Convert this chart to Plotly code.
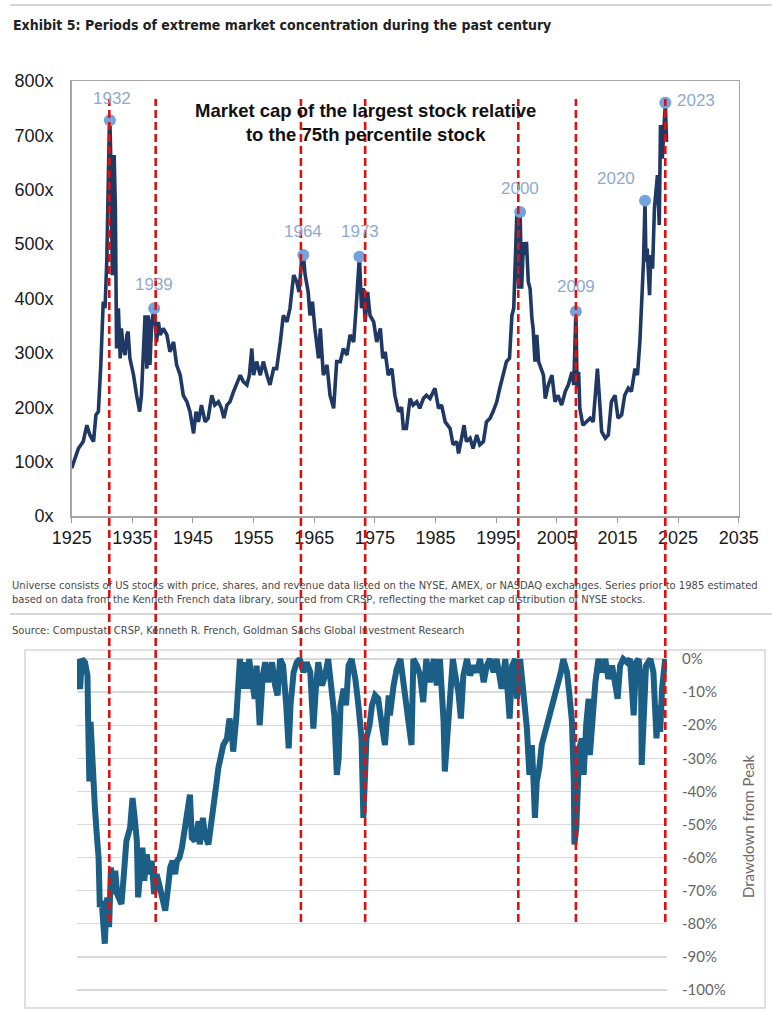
import plotly.graph_objects as go

W, H = 774, 1010

# ---------------- data ----------------
conc_years = [1925.0, 1925.5, 1926.1, 1926.9, 1927.5, 1928.0, 1928.6, 1929.0, 1929.4, 1929.8,
              1930.2, 1930.5, 1930.8, 1931.2, 1931.3, 1931.5, 1931.7, 1932.0, 1932.2, 1932.4,
              1932.7, 1933.0, 1933.2, 1933.5, 1933.8, 1934.1, 1934.3, 1934.6, 1935.2, 1935.7,
              1936.2, 1936.5, 1936.8, 1937.1, 1937.4, 1937.6, 1937.9, 1938.2, 1938.6, 1939.0,
              1939.3, 1939.6, 1940.1, 1940.7, 1941.2, 1941.8, 1942.3, 1942.9, 1943.4, 1944.0,
              1944.5, 1945.1, 1945.5, 1945.9, 1946.4, 1947.0, 1947.5, 1948.1, 1948.6, 1949.2,
              1949.7, 1950.1, 1950.6, 1951.1, 1951.7, 1952.2, 1952.8, 1953.3, 1953.9, 1954.3,
              1954.7, 1955.0, 1955.5, 1956.1, 1956.6, 1957.2, 1957.7, 1958.3, 1958.8, 1959.4,
              1959.9, 1960.5, 1961.0, 1961.6, 1962.1, 1962.5, 1962.9, 1963.2, 1963.5, 1964.0,
              1964.3, 1964.7, 1965.1, 1965.7, 1966.0, 1966.5, 1967.1, 1967.6, 1968.2, 1968.7,
              1969.3, 1969.8, 1970.4, 1970.9, 1971.5, 1971.9, 1972.3, 1972.45, 1972.8, 1973.1,
              1973.4, 1973.8, 1974.2, 1974.8, 1975.3, 1975.9, 1976.3, 1976.7, 1977.2, 1977.8,
              1978.3, 1978.9, 1979.4, 1979.7, 1980.2, 1980.8, 1981.3, 1981.9, 1982.4, 1983.0,
              1983.5, 1984.1, 1984.9, 1985.5, 1986.0, 1986.6, 1987.4, 1987.9, 1988.5, 1988.8,
              1989.3, 1989.7, 1990.1, 1990.7, 1991.2, 1991.8, 1992.3, 1992.9, 1993.4, 1994.0,
              1994.5, 1995.1, 1995.6, 1996.2, 1996.7, 1997.2, 1997.6, 1997.9, 1998.2, 1998.4,
              1998.7, 1998.95, 1999.2, 1999.5, 1999.8, 2000.0, 2000.3, 2000.6, 2000.9, 2001.1,
              2001.4, 2001.7, 2002.0, 2002.2, 2002.8, 2003.1, 2003.6, 2004.2, 2004.7, 2005.2,
              2005.8, 2006.4, 2006.9, 2007.5, 2007.8, 2008.15, 2008.35, 2008.6, 2008.8, 2009.3,
              2009.9, 2010.5, 2011.0, 2011.5, 2011.7, 2012.0, 2012.4, 2013.0, 2013.5, 2014.0,
              2014.6, 2015.1, 2015.7, 2016.2, 2016.8, 2017.3, 2017.9, 2018.3, 2018.7, 2019.1,
              2019.3, 2019.55, 2019.7, 2019.9, 2020.3, 2020.5, 2020.8, 2021.1, 2021.4, 2021.6,
              2021.9, 2022.1, 2022.4, 2022.7, 2022.9, 2023.1]
conc_values = [88, 106, 124, 137, 167, 149, 137, 186, 192, 278,
               394, 382, 474, 715, 728, 627, 443, 664, 566, 308,
               382, 290, 345, 308, 296, 333, 339, 290, 259, 222,
               192, 222, 308, 369, 271, 369, 278, 357, 382, 320,
               357, 333, 345, 333, 302, 320, 278, 259, 222, 210,
               192, 152, 192, 173, 204, 173, 180, 222, 204, 210,
               198, 180, 204, 210, 229, 241, 259, 247, 241, 259,
               308, 259, 284, 259, 284, 259, 241, 271, 271, 320,
               369, 357, 382, 443, 431, 412, 468, 480, 443, 412,
               369, 394, 345, 290, 345, 259, 278, 222, 198, 284,
               284, 308, 296, 333, 320, 382, 468, 477, 382, 419,
               357, 412, 369, 357, 320, 345, 290, 302, 259, 271,
               222, 192, 200, 161, 161, 216, 204, 210, 198, 216,
               222, 216, 235, 198, 204, 173, 161, 131, 137, 115,
               143, 167, 137, 143, 124, 149, 131, 137, 173, 180,
               192, 210, 235, 259, 284, 290, 369, 382, 517, 553,
               418, 559, 418, 504, 480, 504, 431, 418, 363, 345,
               284, 333, 284, 278, 259, 216, 241, 259, 210, 222,
               204, 229, 241, 265, 241, 376, 235, 265, 198, 167,
               173, 180, 173, 247, 271, 222, 155, 143, 149, 210,
               222, 180, 186, 222, 235, 229, 271, 259, 320, 418,
               468, 580, 468, 492, 406, 480, 455, 566, 602, 627,
               535, 719, 657, 737, 760, 688]

peak_years = [1931.3, 1938.6, 1963.2, 1972.45, 1998.95, 2008.15, 2019.55, 2022.9]
peak_values = [728, 382, 480, 477, 559, 376, 580, 760]
peak_labels = ["1932", "1939", "1964", "1973", "2000", "2009", "2020", "2023"]

marker_lines = [1931.2, 1938.85, 1962.8, 1973.4, 1998.65, 2008.15, 2022.9]

x_ticks = [1925, 1935, 1945, 1955, 1965, 1975, 1985, 1995, 2005, 2015, 2025, 2035]
y_ticks = [0, 100, 200, 300, 400, 500, 600, 700, 800]
y_tick_text = ["0x", "100x", "200x", "300x", "400x", "500x", "600x", "700x", "800x"]

dd_years = [1928.0, 1928.2, 1928.5, 1928.8, 1929.3, 1929.7, 1929.8, 1930.0, 1930.2, 1930.5,
            1930.9, 1931.2, 1931.5, 1931.7, 1932.0, 1932.3, 1932.5, 1932.7, 1932.9, 1933.2,
            1933.5, 1933.8, 1934.2, 1934.5, 1935.0, 1935.2, 1935.6, 1936.0, 1936.6, 1937.0,
            1937.4, 1937.7, 1937.9, 1938.2, 1938.6, 1938.9, 1939.3, 1939.7, 1940.1, 1940.5,
            1940.9, 1941.3, 1941.7, 1942.3, 1942.7, 1943.1, 1943.5, 1943.9, 1944.2, 1944.6,
            1945.0, 1945.3, 1945.8, 1946.1, 1946.3, 1946.6, 1947.1, 1947.7, 1947.9, 1948.4,
            1948.7, 1949.3, 1949.7, 1950.1, 1950.5, 1950.9, 1951.3, 1951.7, 1952.3, 1952.7,
            1953.1, 1953.3, 1953.8, 1954.1, 1954.4, 1954.9, 1955.2, 1955.6, 1955.9, 1956.3,
            1956.8, 1957.1, 1957.6, 1958.1, 1958.5, 1959.0, 1959.6, 1960.1, 1960.5, 1960.9,
            1961.4, 1961.9, 1962.3, 1962.6, 1963.1, 1963.6, 1964.1, 1964.7, 1965.2, 1965.8,
            1966.3, 1966.7, 1967.1, 1967.7, 1968.2, 1968.7, 1969.3, 1969.7, 1970.1, 1970.4,
            1970.7, 1971.2, 1971.6, 1972.0, 1972.5, 1973.1, 1973.6, 1974.1, 1974.4, 1974.7,
            1974.9, 1975.4, 1975.8, 1976.3, 1976.8, 1977.4, 1977.9, 1978.5, 1978.7, 1979.3,
            1979.8, 1980.4, 1980.9, 1981.4, 1981.9, 1982.2, 1982.5, 1983.1, 1983.6, 1984.1,
            1984.6, 1985.2, 1985.8, 1986.3, 1986.8, 1987.4, 1987.6, 1988.0, 1988.5, 1988.9,
            1989.4, 1989.8, 1990.2, 1990.6, 1991.2, 1991.7, 1992.2, 1992.8, 1993.3, 1993.9,
            1994.4, 1994.9, 1995.5, 1996.0, 1996.8, 1997.4, 1998.1, 1998.5, 1999.0, 1999.3,
            1999.8, 2000.3, 2000.9, 2001.3, 2001.7, 2002.0, 2002.2, 2002.5, 2002.9, 2003.3,
            2003.9, 2004.4, 2004.9, 2005.5, 2006.0, 2006.4, 2006.8, 2007.4, 2007.8, 2008.2,
            2008.5, 2008.6, 2008.9, 2009.1, 2009.4, 2009.8, 2010.1, 2010.5, 2010.9, 2011.1,
            2011.6, 2012.0, 2012.5, 2013.0, 2013.6, 2014.1, 2014.7, 2015.2, 2015.6, 2016.0,
            2016.5, 2017.1, 2017.6, 2018.2, 2018.6, 2019.0, 2019.4, 2019.5, 2019.8, 2020.2,
            2020.9, 2021.4, 2021.7, 2021.9, 2022.2, 2022.5, 2022.8, 2023.0, 2023.3]
dd_values = [0, -7, -9, 0, -1, -5, -18, -37, -19, -33,
             -45, -53, -60, -75, -73, -81, -86, -78, -72, -81,
             -63, -71, -64, -71, -73, -74, -65, -55, -51, -42,
             -49, -55, -72, -64, -57, -67, -59, -65, -61, -71,
             -65, -68, -72, -76, -70, -63, -61, -65, -61, -60,
             -57, -53, -47, -41, -41, -54, -55, -49, -56, -48,
             -53, -56, -49, -45, -39, -33, -29, -26, -24, -18,
             -22, -28, -18, -8, 0, -9, -1, -9, 0, -6,
             -12, -2, -20, -5, -1, -7, -1, -8, -11, 0,
             -2, -14, -27, -14, -4, -1, 0, -4, -1, -4,
             -21, -9, -1, -8, -5, 0, -9, -17, -35, -30,
             -14, -9, -14, -2, 0, -6, -14, -24, -48, -33,
             -24, -20, -14, -11, -12, -20, -26, -11, -17, -8,
             -3, 0, -7, -14, -22, -26, 0, -2, -5, -13,
             0, -7, 0, -8, 0, -19, -34, -24, -14, 0,
             -6, -10, -18, -5, 0, -5, -2, -4, 0, -7,
             -2, 0, -4, 0, -9, 0, -18, -2, 0, -12,
             0, -9, -21, -35, -26, -38, -48, -37, -33, -26,
             -22, -19, -15, -11, -8, -4, 0, -4, -11, -19,
             -37, -56, -51, -35, -27, -24, -35, -20, -12, -29,
             -14, -7, 0, -4, 0, -6, -2, -8, -12, -2,
             0, -1, 0, -17, -1, 0, -7, -32, -14, -2,
             0, -4, -16, -24, -14, -22, -9, -4, 0]

dd_ticks = [0, -10, -20, -30, -40, -50, -60, -70, -80, -90, -100]
dd_tick_text = ["0%", "-10%", "-20%", "-30%", "-40%", "-50%", "-60%", "-70%", "-80%", "-90%", "-100%"]

# ---------------- helpers ----------------
def px(x):
    return x / W

def py(y):
    return 1 - y / H

ARIAL = "Liberation Sans, Arial, sans-serif"
NARROW = "DejaVu Sans Condensed, Liberation Sans Narrow, Arial Narrow, sans-serif"
TAB = "Lato, Open Sans, sans-serif"

fig = go.Figure()

fig.add_trace(go.Scatter(x=conc_years, y=conc_values, mode="lines",
                         line=dict(color="#1f3864", width=3.6),
                         xaxis="x", yaxis="y", hoverinfo="skip"))
fig.add_trace(go.Scatter(x=peak_years, y=peak_values, mode="markers",
                         marker=dict(color="#74a3db", size=12),
                         xaxis="x", yaxis="y", hoverinfo="skip"))
fig.add_trace(go.Scatter(x=dd_years, y=dd_values, mode="lines",
                         line=dict(color="#1c5f86", width=6),
                         xaxis="x2", yaxis="y2", hoverinfo="skip"))

# label offsets (px) relative to peak markers
label_shift = {"1932": (2, 22), "1939": (0, 24), "1964": (0, 23), "1973": (1, 25),
               "2000": (0, 24), "2009": (0, 25), "2020": (-29, 22), "2023": (31, 2)}

annotations = []
for yr, v, lab in zip(peak_years, peak_values, peak_labels):
    dx, dy = label_shift[lab]
    annotations.append(dict(x=yr, y=v, xref="x", yref="y", text=lab, showarrow=False,
                            xshift=dx, yshift=dy,
                            font=dict(family=ARIAL, size=17, color="#8eaad0")))

annotations += [
    dict(x=px(11), y=py(25), xref="paper", yref="paper", xanchor="left", yanchor="middle",
         text="<b>Exhibit 5: Periods of extreme market concentration during the past century</b>",
         showarrow=False, font=dict(family=NARROW, size=14, color="#222222")),
    dict(x=px(365), y=py(122), xref="paper", yref="paper", xanchor="center", yanchor="middle",
         text="<b>Market cap of the largest stock relative<br>to the 75th percentile stock</b>",
         showarrow=False, font=dict(family=ARIAL, size=18.5, color="#111111")),
    dict(x=px(10), y=py(592), xref="paper", yref="paper", xanchor="left", yanchor="middle",
         align="left",
         text="Universe consists of US stocks with price, shares, and revenue data listed on the NYSE, AMEX, or NASDAQ exchanges. Series prior to 1985 estimated<br>"
              "based on data from the Kenneth French data library, sourced from CRSP, reflecting the market cap distribution of NYSE stocks.",
         showarrow=False, font=dict(family=NARROW, size=11.1, color="#4a4a4a")),
    dict(x=px(10), y=py(630), xref="paper", yref="paper", xanchor="left", yanchor="middle",
         text="Source: Compustat, CRSP, Kenneth R. French, Goldman Sachs Global Investment Research",
         showarrow=False, font=dict(family=NARROW, size=11.1, color="#4a4a4a")),
    dict(x=px(748), y=py(826), xref="paper", yref="paper", xanchor="center", yanchor="middle",
         text="Drawdown from Peak", textangle=-90, showarrow=False,
         font=dict(family=TAB, size=15, color="#6b6b6b")),
]

shapes = [
    dict(type="line", xref="paper", yref="paper", x0=px(10), x1=px(772), y0=py(5), y1=py(5),
         line=dict(color="#c8c8c8", width=1.5), layer="below"),
    dict(type="line", xref="paper", yref="paper", x0=px(10), x1=px(772), y0=py(614), y1=py(614),
         line=dict(color="#c8c8c8", width=1.5), layer="below"),
    dict(type="rect", xref="paper", yref="paper", x0=px(25), x1=px(765), y0=py(1008), y1=py(650),
         line=dict(color="#d6d6d6", width=1.5), layer="below"),
]
for yr in marker_lines:
    shapes.append(dict(type="line", xref="x", yref="paper", x0=yr, x1=yr,
                       y0=py(922), y1=py(99),
                       line=dict(color="#dd1111", width=2.6, dash="8px,4px"), layer="above"))

# bottom panel geometry: 0% at y=659, -100% at y=990
dd_lo, dd_hi = -103, 3
pp = (990 - 659) / 100.0
dd_top = 659 - dd_hi * pp
dd_bot = 990 + (-100 - dd_lo) * pp

fig.update_layout(
    width=W, height=H,
    margin=dict(l=0, r=0, t=0, b=0, pad=0),
    paper_bgcolor="white", plot_bgcolor="white",
    showlegend=False,
    xaxis=dict(domain=[px(71.7), px(738.7)], range=[1925, 2035], automargin=False,
               tickvals=x_ticks, ticks="outside", ticklen=5, tickcolor="#9a9a9a",
               showline=True, linecolor="#a6a6a6", linewidth=1.5, mirror=True,
               showgrid=False, zeroline=False,
               tickfont=dict(family=ARIAL, size=18, color="#1a1a1a")),
    yaxis=dict(domain=[py(516), py(81)], range=[0, 800], automargin=False,
               tickvals=y_ticks, ticktext=y_tick_text, ticks="",
               showline=True, linecolor="#a6a6a6", linewidth=1.5, mirror=True,
               showgrid=False, zeroline=False, ticklabelstandoff=13,
               tickfont=dict(family=ARIAL, size=18, color="#1a1a1a")),
    xaxis2=dict(domain=[px(77), px(667)], range=[1928.0, 2023.6], anchor="y2", automargin=False,
                showticklabels=False, showgrid=False, zeroline=False, showline=False, ticks=""),
    yaxis2=dict(domain=[py(dd_bot), py(dd_top)], range=[dd_lo, dd_hi], anchor="x2", automargin=False,
                side="right", tickvals=dd_ticks, ticktext=dd_tick_text, ticks="",
                showgrid=True, gridcolor="#d9d9d9", gridwidth=1.3, zeroline=False,
                showline=False, ticklabelstandoff=14,
                tickfont=dict(family=TAB, size=15, color="#666666")),
    annotations=annotations,
    shapes=shapes,
)

fig.write_html("out.html",
               config={"displayModeBar": False, "staticPlot": True},
               post_script="document.body.style.margin='0';document.body.style.overflow='hidden';")
